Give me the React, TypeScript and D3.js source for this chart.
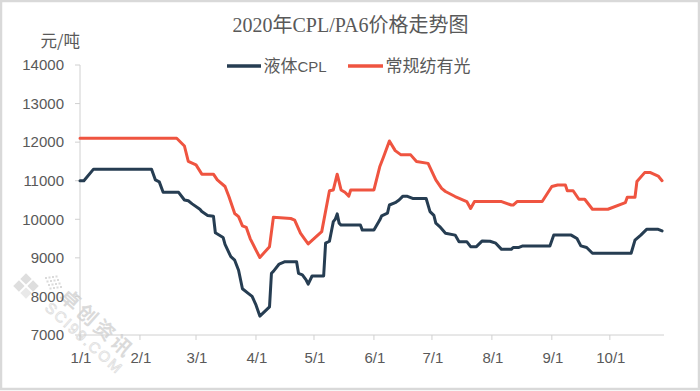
import React from "react";
import * as d3 from "d3";

const cplDates = ["01-01","01-03","01-08","02-07","02-09","02-11","02-13","02-21","02-24","02-26","02-28","03-03","03-04","03-07","03-10","03-11","03-15","03-16","03-19","03-21","03-23","03-25","03-28","03-30","04-01","04-03","04-08","04-09","04-10","04-13","04-16","04-22","04-23","04-25","04-27","04-28","04-30","05-06","05-07","05-09","05-11","05-12","05-13","05-14","05-15","05-25","05-26","06-01","06-04","06-05","06-08","06-09","06-12","06-14","06-16","06-18","06-21","06-28","06-30","07-02","07-03","07-05","07-08","07-13","07-15","07-19","07-21","07-24","07-27","07-31","08-03","08-06","08-11","08-12","08-15","08-17","08-31","09-02","09-11","09-14","09-16","09-19","09-22","10-12","10-14","10-17","10-20","10-26","10-28"];
const cplValues = [11000,11000,11300,11300,11020,10970,10700,10700,10500,10480,10400,10260,10200,10100,10080,9650,9530,9350,9030,8940,8680,8200,8080,8000,7780,7490,7730,8600,8650,8840,8900,8900,8600,8560,8420,8320,8530,8530,9380,9430,9940,10000,10140,9900,9850,9850,9720,9720,9980,10090,10160,10370,10430,10500,10600,10600,10540,10540,10200,10100,9900,9810,9640,9590,9420,9420,9290,9290,9440,9430,9380,9220,9220,9270,9270,9310,9310,9590,9590,9500,9310,9270,9120,9120,9460,9590,9740,9740,9700];

const pa6Dates = ["01-01","02-20","02-24","02-26","03-01","03-04","03-10","03-12","03-16","03-18","03-21","03-23","03-25","03-27","03-29","04-01","04-03","04-08","04-10","04-19","04-21","04-24","04-26","04-28","05-05","05-09","05-11","05-13","05-15","05-17","05-19","05-20","06-01","06-04","06-06","06-09","06-12","06-15","06-20","06-23","06-29","07-03","07-06","07-08","07-13","07-19","07-21","07-23","08-06","08-11","08-12","08-14","08-27","09-01","09-04","09-08","09-09","09-12","09-15","09-18","09-22","09-30","10-09","10-10","10-14","10-15","10-19","10-22","10-26","10-28"];
const pa6Values = [12100,12100,11900,11500,11410,11170,11170,11020,10850,10590,10150,10070,9830,9790,9500,9200,9010,9290,10050,10020,9980,9640,9500,9360,9680,10740,10760,11170,10760,10700,10600,10760,10760,11360,11620,12030,11780,11670,11670,11500,11450,11020,10800,10720,10590,10460,10280,10460,10460,10370,10370,10460,10460,10850,10890,10890,10740,10740,10520,10520,10260,10260,10430,10570,10570,10980,11210,11210,11120,11000];

const seriesNames = ["液体CPL", "常规纺有光"];
const seriesColors = ["#263d52", "#ef5440"];
const yTicks = [7000, 8000, 9000, 10000, 11000, 12000, 13000, 14000];
const xTickDates = ["01-01","02-01","03-01","04-01","05-01","06-01","07-01","08-01","09-01","10-01"];
const titleText = "2020年CPL/PA6价格走势图";
const unitText = "元/吨";

const toDate = (s: string) => {
  const [m, d] = s.split("-").map(Number);
  return new Date(2020, m - 1, d);
};

const CJK = "Noto Sans CJK SC";
const LATIN = "Liberation Sans";

function runs(text: string) {
  return text.match(/[\u3000-\u9fff\uff00-\uffef]+|[^\u3000-\u9fff\uff00-\uffef]+/g) || [];
}

export default function App() {
  const W = 700, H = 391;
  const x = d3.scaleTime().domain([toDate("01-01"), toDate("10-29")]).range([80, 664]);
  const y = d3.scaleLinear().domain([7000, 14000]).range([335, 65]);
  const line = d3.line<[Date, number]>().x(d => x(d[0])).y(d => y(d[1]));
  const series = [
    cplDates.map((d, i) => [toDate(d), cplValues[i]] as [Date, number]),
    pa6Dates.map((d, i) => [toDate(d), pa6Values[i]] as [Date, number]),
  ];
  const fmt = d3.timeFormat("%-m/%-d");
  const textColor = "#595959";
  const axisColor = "#d0d0d0";

  const legendItems = [
    { x0: 227, x1: 261, tx: 263.5 },
    { x0: 348, x1: 383, tx: 385.5 },
  ];

  return (
    <div style={{ position: "absolute", left: 0, top: 0 }}>
      <svg width={W} height={H} style={{ display: "block", background: "#fff" }}>
        <rect x={1} y={1} width={W - 2} height={H - 3} fill="#fff" stroke="#d9d9d9" strokeWidth={2.5} />

        {/* watermark */}
        <g opacity={0.55}>
          <g transform="translate(26,286) rotate(45)">
            <rect x={-9} y={-9} width={8} height={8} fill="#c4c4c4" />
            <rect x={1} y={-9} width={8} height={8} fill="#c4c4c4" />
            <rect x={-9} y={1} width={8} height={8} fill="#c4c4c4" />
            <rect x={1} y={1} width={8} height={8} fill="#d8d8d8" />
          </g>
          {d3.range(4).flatMap(r => d3.range(4).map(c => (
            <rect key={`${r}-${c}`} x={45 + c * 3.5 + r * 1.5} y={277 + r * 3.5 - c * 0.5} width={2} height={2} fill="#bdbdbd" />
          )))}
          <text x={58} y={298} transform="rotate(42 58 298)" fontFamily={CJK} fontSize={20} fontWeight={700} fill="#bcbcbc" letterSpacing={3}>卓创资讯</text>
          <text x={44} y={309} transform="rotate(42 44 309)" fontFamily={LATIN} fontSize={15} fill="none" stroke="#c4c4c4" strokeWidth={0.8} letterSpacing={2}>SCI99.COM</text>
        </g>

        {/* title */}
        <text x={350.5} y={32} textAnchor="middle" fill={textColor}>
          {runs(titleText).map((r, i) => (
            /[\u3000-\u9fff]/.test(r)
              ? <tspan key={i} fontFamily={CJK} fontSize={20}>{r}</tspan>
              : <tspan key={i} fontFamily="Liberation Serif" fontSize={20}>{r}</tspan>
          ))}
        </text>

        {/* unit */}
        <text x={80} y={47} textAnchor="end" fill={textColor} fontFamily={CJK} fontSize={16.5}>{unitText}</text>

        {/* legend */}
        {legendItems.map((l, i) => (
          <g key={i}>
            <line x1={l.x0} x2={l.x1} y1={66} y2={66} stroke={seriesColors[i]} strokeWidth={3.5} />
            <text x={l.tx} y={71.5} fill={textColor}>
              {runs(seriesNames[i]).map((r, j) => (
                /[\u3000-\u9fff]/.test(r)
                  ? <tspan key={j} fontFamily={CJK} fontSize={17}>{r}</tspan>
                  : <tspan key={j} fontFamily={LATIN} fontSize={15}>{r}</tspan>
              ))}
            </text>
          </g>
        ))}

        {/* y axis */}
        <line x1={80} x2={80} y1={y(14000)} y2={y(7000) + 5} stroke={axisColor} strokeWidth={1} />
        {yTicks.map(t => (
          <g key={t}>
            <line x1={75} x2={80} y1={y(t)} y2={y(t)} stroke={axisColor} strokeWidth={1} />
            <text x={64} y={y(t) + 5.3} textAnchor="end" fontFamily={LATIN} fontSize={15} fill={textColor}>{t}</text>
          </g>
        ))}

        {/* x axis */}
        <line x1={80} x2={664} y1={y(7000)} y2={y(7000)} stroke={axisColor} strokeWidth={1} />
        {xTickDates.map(s => {
          const d = toDate(s);
          const xx = x(d);
          return (
            <g key={s}>
              <line x1={xx} x2={xx} y1={y(7000)} y2={y(7000) + 5} stroke={axisColor} strokeWidth={1} />
              <text x={xx + 1} y={363} textAnchor="middle" fontFamily={LATIN} fontSize={15} fill={textColor}>{fmt(d)}</text>
            </g>
          );
        })}

        {/* lines */}
        {series.map((s, i) => (
          <path key={i} d={line(s) || ""} fill="none" stroke={seriesColors[i]} strokeWidth={3} strokeLinejoin="round" strokeLinecap="round" />
        ))}
      </svg>
    </div>
  );
}
